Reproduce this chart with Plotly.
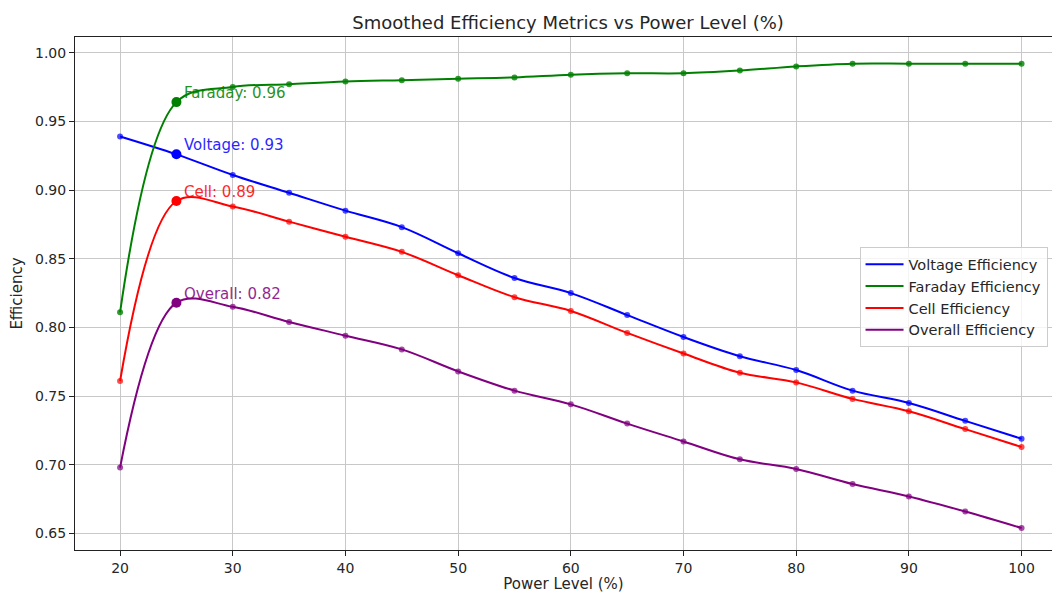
import plotly.graph_objects as go

power = [20, 25, 30, 35, 40, 45, 50, 55, 60, 65, 70, 75, 80, 85, 90, 95, 100]
voltage = [0.939, 0.926, 0.911, 0.898, 0.885, 0.873, 0.854, 0.836, 0.825, 0.809,
           0.793, 0.779, 0.769, 0.754, 0.745, 0.732, 0.719]
faraday = [0.811, 0.964, 0.975, 0.977, 0.979, 0.980, 0.981, 0.982, 0.984, 0.985,
           0.985, 0.987, 0.990, 0.992, 0.992, 0.992, 0.992]
cell = [0.761, 0.892, 0.888, 0.877, 0.866, 0.855, 0.838, 0.822, 0.812, 0.796,
        0.781, 0.767, 0.760, 0.748, 0.739, 0.726, 0.713]
overall = [0.698, 0.818, 0.815, 0.804, 0.794, 0.784, 0.768, 0.754, 0.744, 0.730,
           0.717, 0.704, 0.697, 0.686, 0.677, 0.666, 0.654]

series_names = ["Voltage", "Faraday", "Cell", "Overall"]
series_values = [voltage, faraday, cell, overall]
colors = ["#0000ff", "#008000", "#ff0000", "#800080"]
marker_colors = ["rgba(0,0,255,0.7)", "rgba(0,128,0,0.8)", "rgba(255,0,0,0.7)", "rgba(128,0,128,0.7)"]
highlight_power = 25
y_ticks = [0.65, 0.70, 0.75, 0.80, 0.85, 0.90, 0.95, 1.00]
x_ticks = [20, 30, 40, 50, 60, 70, 80, 90, 100]

FONT = "DejaVu Sans"
TXT = "#262626"
fig = go.Figure()

for name, vals, col in zip(series_names, series_values, colors):
    fig.add_trace(go.Scatter(
        x=power, y=vals, mode="lines", name=f"{name} Efficiency",
        line=dict(color=col, width=2, shape="spline", smoothing=1.0),
    ))

for name, vals, col, mcol in zip(series_names, series_values, colors, marker_colors):
    fig.add_trace(go.Scatter(
        x=power, y=vals, mode="markers", showlegend=False,
        marker=dict(color=mcol, size=6),
    ))
    i = power.index(highlight_power)
    fig.add_trace(go.Scatter(
        x=[power[i]], y=[vals[i]], mode="markers", showlegend=False,
        marker=dict(color=col, size=10),
    ))
    fig.add_annotation(
        x=power[i], y=vals[i], text=f"{name}: {vals[i]:.2f}",
        showarrow=False, xanchor="left", yanchor="middle",
        xshift=6, yshift=9, font=dict(family=FONT, size=15, color=col),
        opacity=0.85,
    )

fig.update_layout(
    width=1052, height=593,
    margin=dict(l=75, r=0, t=37, b=43),
    paper_bgcolor="white", plot_bgcolor="white",
    font=dict(family=FONT, size=14, color=TXT),
    title=dict(text="Smoothed Efficiency Metrics vs Power Level (%)",
               x=0.54, xanchor="center", xref="container", y=0.962, yanchor="middle",
               font=dict(family=FONT, size=18, color=TXT)),
    legend=dict(x=0.803, y=0.59, xanchor="left", yanchor="top",
                bgcolor="rgba(255,255,255,0.8)", bordercolor="#cccccc", borderwidth=1,
                font=dict(family=FONT, size=14.5, color=TXT), tracegroupgap=0,
                itemwidth=38),
    showlegend=True,
)

fig.update_xaxes(
    range=[16, 102.7], tickvals=x_ticks, ticktext=[str(t) for t in x_ticks],
    showgrid=True, gridcolor="#c8c8c8", gridwidth=1,
    showline=True, linecolor="#222", linewidth=1, mirror=True,
    ticks="outside", ticklen=5, tickcolor="#222", zeroline=False, automargin=False,
    title=dict(text="Power Level (%)", font=dict(family=FONT, size=15), standoff=11),
    tickfont=dict(family=FONT, size=14),
)
fig.update_yaxes(
    range=[0.638, 1.0114], tickvals=y_ticks, ticktext=[f"{t:.2f}" for t in y_ticks],
    showgrid=True, gridcolor="#c8c8c8", gridwidth=1,
    showline=True, linecolor="#222", linewidth=1,
    ticks="outside", ticklen=5, tickcolor="#222", zeroline=False, automargin=False,
    title=dict(text="Efficiency", font=dict(family=FONT, size=15), standoff=8),
    tickfont=dict(family=FONT, size=14),
)

fig.write_html("out.html", config={"displayModeBar": False},
               post_script="document.body.style.margin='0';")
